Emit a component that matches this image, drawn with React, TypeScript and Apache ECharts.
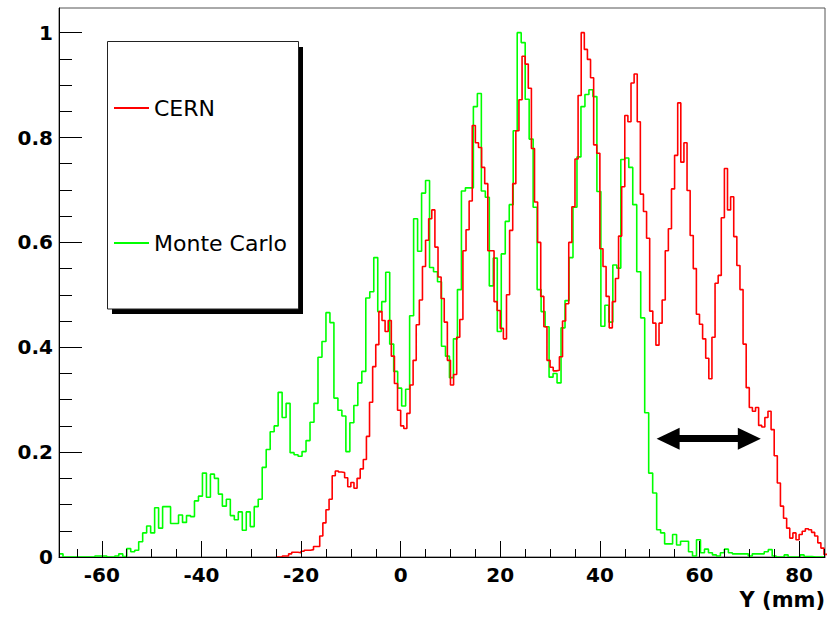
import React, { useEffect, useRef } from "react";
import * as echarts from "echarts";

// ---- axes ----
const X_MIN = -68.6;
const X_MAX = 85.2;
const Y_MIN = 0;
const Y_MAX = 1.047;

const xMajorTicks = [-60, -40, -20, 0, 20, 40, 60, 80];
const xMinorTicks = [-65, -55, -50, -45, -35, -30, -25, -15, -10, -5, 5, 10, 15, 25, 30, 35, 45, 50, 55, 65, 70, 75, 85];
const yMajorTicks = [0, 0.2, 0.4, 0.6, 0.8, 1];
const yMinorTicks = [0.05, 0.1, 0.15, 0.25, 0.3, 0.35, 0.45, 0.5, 0.55, 0.65, 0.7, 0.75, 0.85, 0.9, 0.95];
const xTitle = "Y (mm)";

// ---- series ----
const seriesNames = ["CERN", "Monte Carlo"];

// CERN histogram: bins of 0.625 mm starting at -25 mm
const cernStart = -25;
const cernBinWidth = 0.625;
const cernValues = [
  0, 0, 0.002, 0.002, 0.006, 0.009, 0.009, 0.008, 0.011, 0.013,
  0.013, 0.014, 0.02, 0.02, 0.04, 0.065, 0.09, 0.11, 0.155, 0.164,
  0.162, 0.161, 0.151, 0.134, 0.142, 0.131, 0.15, 0.168, 0.186, 0.23,
  0.295, 0.363, 0.405, 0.468, 0.451, 0.43, 0.451, 0.383, 0.331, 0.28,
  0.25, 0.245, 0.274, 0.328, 0.375, 0.443, 0.49, 0.554, 0.604, 0.645,
  0.662, 0.591, 0.534, 0.493, 0.448, 0.375, 0.328, 0.348, 0.419, 0.453,
  0.584, 0.624, 0.679, 0.823, 0.79, 0.781, 0.743, 0.712, 0.584, 0.584,
  0.487, 0.47, 0.436, 0.416, 0.5, 0.623, 0.712, 0.813, 0.872, 0.955,
  0.94, 0.894, 0.779, 0.677, 0.6, 0.497, 0.439, 0.375, 0.362, 0.355,
  0.356, 0.382, 0.45, 0.483, 0.6, 0.668, 0.759, 0.88, 1.0, 0.968,
  0.949, 0.914, 0.786, 0.77, 0.588, 0.554, 0.497, 0.437, 0.487, 0.531,
  0.612, 0.706, 0.842, 0.83, 0.904, 0.921, 0.83, 0.692, 0.659, 0.608,
  0.469, 0.446, 0.404, 0.446, 0.49, 0.584, 0.626, 0.702, 0.766, 0.866,
  0.753, 0.79, 0.699, 0.613, 0.55, 0.463, 0.444, 0.416, 0.379, 0.34,
  0.419, 0.522, 0.537, 0.647, 0.741, 0.662, 0.687, 0.611, 0.556, 0.51,
  0.406, 0.323, 0.285, 0.278, 0.285, 0.251, 0.248, 0.266, 0.278, 0.243,
  0.193, 0.141, 0.097, 0.074, 0.055, 0.036, 0.046, 0.033, 0.043, 0.049,
  0.054, 0.052, 0.047, 0.04, 0.027, 0.017, 0.005,
];

// Monte Carlo histogram: bins of 0.8 mm starting at -68.6 mm
const mcStart = -68.6;
const mcBinWidth = 0.8;
const mcValues = [
  0.006, 0, 0, 0, 0, 0, 0, 0, 0, 0.002,
  0.002, 0.002, 0, 0, 0.002, 0.006, 0.001, 0.016, 0.01, 0.013,
  0.029, 0.046, 0.059, 0.046, 0.094, 0.055, 0.096, 0.096, 0.064, 0.064,
  0.08, 0.066, 0.079, 0.077, 0.107, 0.116, 0.16, 0.114, 0.158, 0.15,
  0.12, 0.097, 0.11, 0.079, 0.071, 0.086, 0.051, 0.086, 0.058, 0.096,
  0.11, 0.171, 0.205, 0.239, 0.25, 0.314, 0.266, 0.293, 0.199, 0.195,
  0.192, 0.201, 0.222, 0.257, 0.293, 0.381, 0.411, 0.466, 0.447, 0.303,
  0.28, 0.269, 0.201, 0.256, 0.289, 0.332, 0.354, 0.494, 0.506, 0.571,
  0.468, 0.487, 0.543, 0.406, 0.354, 0.322, 0.288, 0.32, 0.46, 0.645,
  0.583, 0.694, 0.718, 0.552, 0.544, 0.525, 0.402, 0.383, 0.342, 0.416,
  0.51, 0.698, 0.704, 0.704, 0.859, 0.884, 0.698, 0.686, 0.517, 0.57,
  0.43, 0.578, 0.64, 0.672, 0.813, 1.0, 0.981, 0.873, 0.797, 0.667,
  0.51, 0.468, 0.439, 0.343, 0.35, 0.332, 0.437, 0.489, 0.571, 0.667,
  0.763, 0.859, 0.882, 0.891, 0.878, 0.697, 0.44, 0.48, 0.448, 0.557,
  0.551, 0.758, 0.761, 0.743, 0.672, 0.544, 0.456, 0.275, 0.16, 0.122,
  0.052, 0.046, 0.025, 0.025, 0.043, 0.023, 0.03, 0.03, 0.01, 0.002,
  0.033, 0.008, 0.015, 0.008, 0.004, 0.002, 0.008, 0.015, 0.008, 0.006,
  0.006, 0.006, 0.006, 0.002, 0.006, 0.006, 0.006, 0.01, 0.014, 0.002,
  0, 0, 0.004, 0, 0, 0, 0.004, 0.001, 0.001, 0,
  0, 0,
];

// annotation arrow (data coordinates: from / to along Y, at height)
const arrowFrom = 53.7;
const arrowTo = 70.0;
const arrowLevel = 0.2256;

function histData(start: number, width: number, values: number[]) {
  const pts: number[][] = values.map((v, i) => [start + i * width, v]);
  pts.push([start + values.length * width, values[values.length - 1]]);
  return pts;
}

const tickFont = {
  fontFamily: "DejaVu Sans",
  fontWeight: "bold" as const,
  fontSize: 20,
  color: "#000",
};

export default function App() {
  const ref = useRef<HTMLDivElement>(null);

  useEffect(() => {
    if (!ref.current) return;
    const chart = echarts.init(ref.current, null, { renderer: "svg" });

    const option: any = {
      animation: false,
      backgroundColor: "#ffffff",
      grid: {
        left: 59,
        top: 8,
        width: 766,
        height: 549,
        show: true,
        borderColor: "#555",
        borderWidth: 1,
        backgroundColor: "transparent",
      },
      xAxis: [
        {
          type: "value",
          min: X_MIN,
          max: X_MAX,
          position: "bottom",
          z: 10,
          axisLine: { show: true, onZero: false, lineStyle: { color: "#000", width: 1 } },
          axisTick: {
            show: true,
            inside: true,
            length: 16,
            customValues: xMajorTicks,
            lineStyle: { color: "#000", width: 1 },
          },
          axisLabel: {
            show: true,
            customValues: xMajorTicks,
            margin: 8,
            formatter: (v: number) => String(v),
            ...tickFont,
          },
          splitLine: { show: false },
          name: xTitle,
          nameLocation: "end",
          nameGap: 0,
          nameTextStyle: {
            fontFamily: "DejaVu Sans",
            fontWeight: "bold",
            fontSize: 21,
            color: "#000",
            align: "right",
            verticalAlign: "top",
            padding: [32, 0, 0, 0],
          },
        },
        {
          type: "value",
          min: X_MIN,
          max: X_MAX,
          position: "bottom",
          z: 10,
          axisLine: { show: false, onZero: false },
          axisTick: {
            show: true,
            inside: true,
            length: 8,
            customValues: xMinorTicks,
            lineStyle: { color: "#000", width: 1 },
          },
          axisLabel: { show: false },
          splitLine: { show: false },
        },
      ],
      yAxis: [
        {
          type: "value",
          min: Y_MIN,
          max: Y_MAX,
          position: "left",
          z: 10,
          axisLine: { show: true, onZero: false, lineStyle: { color: "#000", width: 1 } },
          axisTick: {
            show: true,
            inside: true,
            length: 23,
            customValues: yMajorTicks,
            lineStyle: { color: "#000", width: 1 },
          },
          axisLabel: {
            show: true,
            customValues: yMajorTicks,
            margin: 6,
            formatter: (v: number) => String(v),
            ...tickFont,
          },
          splitLine: { show: false },
        },
        {
          type: "value",
          min: Y_MIN,
          max: Y_MAX,
          position: "left",
          z: 10,
          axisLine: { show: false, onZero: false },
          axisTick: {
            show: true,
            inside: true,
            length: 13,
            customValues: yMinorTicks,
            lineStyle: { color: "#000", width: 1 },
          },
          axisLabel: { show: false },
          splitLine: { show: false },
        },
      ],
      legend: {
        data: seriesNames,
        orient: "vertical",
        left: 114,
        top: 97,
        padding: 0,
        icon: "rect",
        itemWidth: 35,
        itemHeight: 2,
        itemGap: 113,
        selectedMode: false,
        z: 6,
        textStyle: {
          fontFamily: "DejaVu Sans",
          fontSize: 22,
          lineHeight: 22,
          color: "#000",
        },
      },
      graphic: [
        {
          type: "rect",
          z: 0,
          silent: true,
          shape: { x: 112, y: 47, width: 191, height: 267 },
          style: { fill: "#000" },
        },
        {
          type: "rect",
          z: 1,
          silent: true,
          shape: { x: 107.5, y: 41.5, width: 191, height: 267.5 },
          style: { fill: "#fff", stroke: "#222", lineWidth: 1 },
        },
      ],
      series: [
        {
          name: seriesNames[1],
          type: "line",
          step: "end",
          symbol: "none",
          showSymbol: false,
          clip: true,
          z: 2,
          data: histData(mcStart, mcBinWidth, mcValues),
          lineStyle: { color: "#00ff00", width: 1.6 },
          itemStyle: { color: "#00ff00" },
        },
        {
          name: seriesNames[0],
          type: "line",
          step: "end",
          symbol: "none",
          showSymbol: false,
          clip: true,
          z: 3,
          data: histData(cernStart, cernBinWidth, cernValues),
          lineStyle: { color: "#ff0000", width: 1.6 },
          itemStyle: { color: "#ff0000" },
          markLine: {
            silent: true,
            symbol: ["triangle", "triangle"],
            symbolSize: [22, 23],
            label: { show: false },
            lineStyle: { color: "#000", width: 7, type: "solid" },
            itemStyle: { color: "#000" },
            data: [
              [
                { coord: [arrowFrom, arrowLevel] },
                { coord: [arrowTo, arrowLevel] },
              ],
            ],
          },
        },
      ],
    };

    chart.setOption(option);
    return () => chart.dispose();
  }, []);

  return (
    <div
      ref={ref}
      style={{
        position: "fixed",
        left: 0,
        top: 0,
        width: 834,
        height: 618,
        background: "#fff",
      }}
    />
  );
}
